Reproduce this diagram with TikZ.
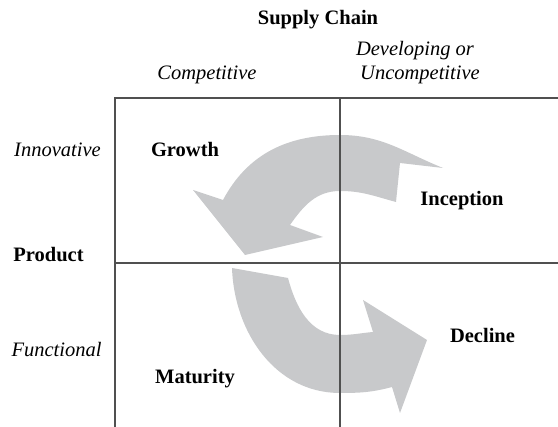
\documentclass[tikz,border=0pt]{standalone}
\usepackage{fontspec}
\setmainfont{Liberation Serif}
\definecolor{arrowgray}{RGB}{200,201,203}
\definecolor{linegray}{RGB}{80,80,80}
\begin{document}
\begin{tikzpicture}[x=1pt,y=1pt,
  lbl/.style={anchor=base,inner sep=0pt,font=\fontsize{20.5}{25}\selectfont},
  quad/.style={lbl,font=\fontsize{20.5}{25}\selectfont\bfseries},
  axis/.style={lbl,font=\fontsize{20.5}{25}\selectfont\itshape},
  gridline/.style={draw=linegray,line width=1.3pt},
  bigarrow/.style={fill=arrowgray,draw=none}]
\useasboundingbox (0,0) rectangle (558,427);
% curved arrows
\fill[bigarrow] (443,259) -- (400,264) -- (396,225)
  to[out=165,in=0] (340,236)
  to[out=180,in=55] (290,202)
  -- (323,190) -- (245,172) -- (193,237) -- (223,227)
  to[out=62,in=180] (340,292)
  to[out=0,in=158] (443,259) -- cycle;
\fill[bigarrow] (232,159) -- (288,149)
  to[out=-75,in=180] (340,92)
  to[out=0,in=185] (373,95)
  -- (363,127) -- (427,87) -- (400,14) -- (392,40)
  to[out=195,in=0] (340,34)
  to[out=180,in=-88] (232,159) -- cycle;
% grid
\coordinate (tl) at (115,329);
\coordinate (tr) at (558,329);
\coordinate (bl) at (115,0);
\coordinate (tm) at (340,329);
\coordinate (bm) at (340,0);
\coordinate (ml) at (115,164);
\coordinate (mr) at (558,164);
\draw[gridline] (bl) -- (tl) -- (tr);
\draw[gridline] (tm) -- (bm);
\draw[gridline] (ml) -- (mr);
% labels
\node[quad] (supply) at (318,402) {Supply Chain};
\node[axis] (comp) at (207,347) {Competitive};
\node[axis] (dev) at (415,371) {Developing or};
\node[axis] (uncomp) at (420,347) {Uncompetitive};
\node[axis] (innov) at (57.5,270) {Innovative};
\node[quad] (growth) at (185,270) {Growth};
\node[quad] (incep) at (462,221) {Inception};
\node[quad] (prod) at (48.5,165) {Product};
\node[axis] (func) at (56.5,70) {Functional};
\node[quad] (decl) at (482.5,84) {Decline};
\node[quad] (mat) at (195,43) {Maturity};
\end{tikzpicture}
\end{document}
